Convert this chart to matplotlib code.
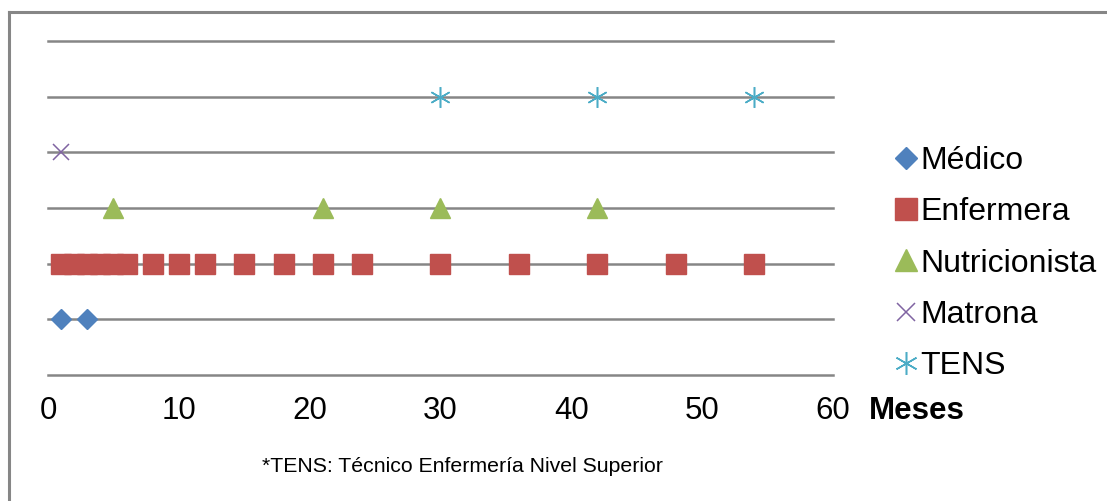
import matplotlib.pyplot as plt
from matplotlib.lines import Line2D

plt.rcParams['font.family'] = ['Liberation Sans', 'DejaVu Sans']

# months at which each professional controls take place
medico = [1, 3]
enfermera = [1, 2, 3, 4, 5, 6, 8, 10, 12, 15, 18, 21, 24, 30, 36, 42, 48, 54]
nutricionista = [5, 21, 30, 42]
matrona = [1]
tens = [30, 42, 54]

series = [
    ("Médico", medico, 1, dict(marker='D', color='#4F81BD', ms=10.5)),
    ("Enfermera", enfermera, 2, dict(marker='s', color='#C0504D', ms=14)),
    ("Nutricionista", nutricionista, 3, dict(marker='^', color='#9BBB59', ms=15)),
    ("Matrona", matrona, 4, dict(marker='x', color='#8064A2', ms=12, mew=1.1)),
    ("TENS", tens, 5, dict(marker=(6, 2, 0), color='#4BACC6', ms=15, mew=1.1)),
]

fig = plt.figure(figsize=(11.07, 5.01), dpi=100)
ax = fig.add_axes([0.0434, 0.2515, 0.709, 0.6665])

for yy in range(0, 7):
    ax.axhline(yy, color='#868686', lw=1.8, zorder=1, clip_on=False)

for name, months, row, st in series:
    ax.plot(months, [row] * len(months), ls='none', label=name, zorder=3, **st)

ax.set_xlim(0, 60)
ax.set_ylim(0, 6)
ax.set_yticks([])
ax.set_xticks(range(0, 61, 10))
ax.tick_params(axis='x', length=0, pad=15, labelsize=22.5)
for s in ax.spines.values():
    s.set_visible(False)

fig.text(0.785, 0.18, "Meses", fontsize=22.5, fontweight='bold', ha='left', va='center')
fig.text(0.418, 0.068, "*TENS: Técnico Enfermería Nivel Superior", fontsize=15.3,
         ha='center', va='center')

fig.legend(loc='center left', bbox_to_anchor=(0.795, 0.474), frameon=False,
           fontsize=23, handlelength=0.6, handletextpad=0.15, labelspacing=0.67,
           borderpad=0, markerscale=1.1)

# outer chart border
fig.add_artist(Line2D([9 / 1107, 9 / 1107], [0, 1 - 12 / 501], color='#868686', lw=2.2))
fig.add_artist(Line2D([9 / 1107, 1], [1 - 12 / 501, 1 - 12 / 501], color='#868686', lw=2.2))

fig.savefig("out.png", dpi=100)
